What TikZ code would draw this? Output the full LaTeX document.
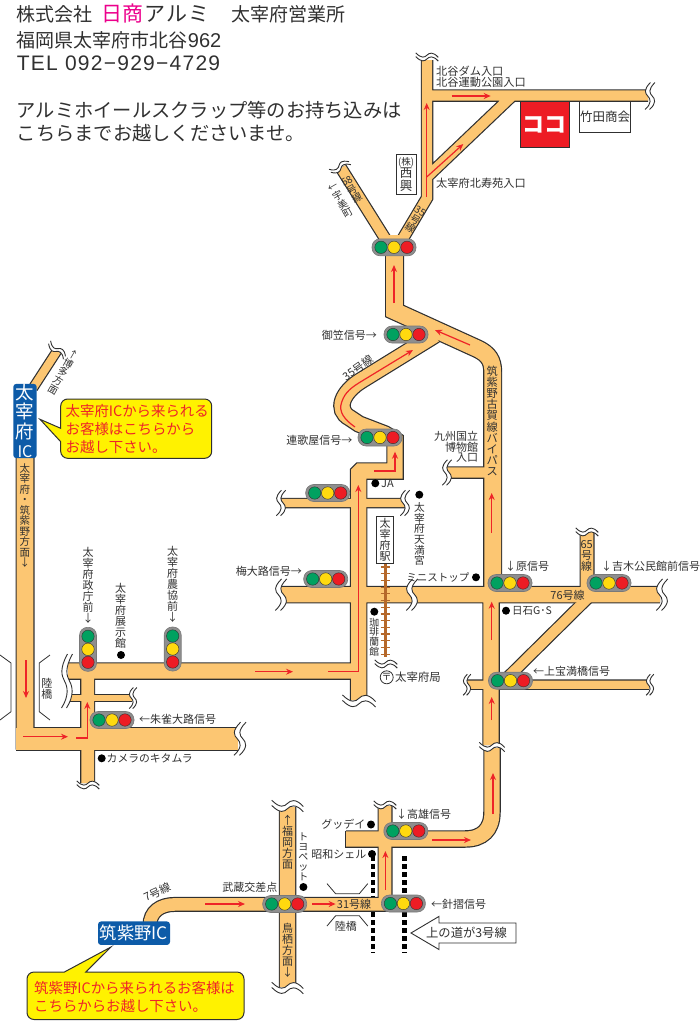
\documentclass[tikz,border=0pt]{standalone}
\usepackage{fontspec}
\setmainfont{Noto Sans CJK JP}
\newfontfamily\latinfont{Liberation Sans}
\newfontfamily\phonefont[LetterSpace=6]{Liberation Sans}
\usetikzlibrary{arrows.meta}
\lineskiplimit=-30pt
\definecolor{roadfill}{HTML}{FCC672}
\definecolor{inkgray}{HTML}{303030}
\definecolor{arrowred}{HTML}{EE2428}
\definecolor{signalgray}{HTML}{8E8E8E}
\definecolor{signalgreen}{HTML}{00A160}
\definecolor{signalyellow}{HTML}{FFD90F}
\definecolor{signalred}{HTML}{ED1C24}
\definecolor{icblue}{HTML}{0D5BA8}
\definecolor{noteyellow}{HTML}{FFF200}
\definecolor{pinkname}{HTML}{EC008C}
\definecolor{railbrown}{HTML}{B5682A}
\tikzset{
  fs/.style={font=\fontsize{#1}{#1}\selectfont},
  lbl/.style={inner sep=0pt,text=inkgray,fs=#1},
  lbl/.default=11,
  wlbl/.style={lbl=#1,anchor=west},
  wlbl/.default=11,
  elbl/.style={lbl=#1,anchor=east},
  elbl/.default=11,
  stack/.style={lbl=#1,align=center},
  stack/.default=11,
  blackdot/.style={circle,fill=black,inner sep=0pt,minimum size=8pt},
  roadedge/.style={draw=inkgray,line width=#1pt,line join=miter},
  roadinner/.style={draw=roadfill,line width=#1pt,line join=miter},
  redarrow/.style={draw=arrowred,line width=1.2pt,-{Stealth[length=7pt,width=6pt]}},
  namebox/.style={draw=inkgray,line width=1pt,fill=white,inner sep=0pt,text=inkgray},
  icbox/.style={fill=icblue,rounded corners=3pt,text=white,inner sep=0pt},
  callout/.style={draw=inkgray,line width=1pt,fill=noteyellow},
  notetext/.style={inner sep=0pt,text=arrowred,anchor=north west,align=left,font=\fontsize{14.4}{18}\selectfont},
  headline/.style={inner sep=0pt,text=inkgray,anchor=west,fs=#1},
  bridgeline/.style={draw=inkgray,line width=.8pt},
  wavemark/.pic={
    \path[fill=white] (.5,-15) .. controls (-7.5,-7) and (-5.5,-3) .. (-2.5,0) .. controls (.5,3) and (2.5,8) .. (-5.5,15)
      -- (-.5,15) .. controls (7.5,8) and (5.5,3) .. (2.5,0) .. controls (-.5,-3) and (-2.5,-7) .. (5.5,-15) -- cycle;
    \draw[inkgray,line width=.9pt] (.5,-15) .. controls (-7.5,-7) and (-5.5,-3) .. (-2.5,0) .. controls (.5,3) and (2.5,8) .. (-5.5,15);
    \draw[inkgray,line width=.9pt] (5.5,-15) .. controls (-2.5,-7) and (-.5,-3) .. (2.5,0) .. controls (5.5,3) and (7.5,8) .. (-.5,15);
  },
  trafficlight/.pic={
    \draw[signalgray!85!black,fill=signalgray,rounded corners=8pt,line width=.6pt] (-22,-8.5) rectangle (22,8.5);
    \draw[inkgray,fill=signalgreen,line width=.4pt] (-13,0) circle (6.2);
    \draw[inkgray,fill=signalyellow,line width=.4pt] (0,0) circle (6.2);
    \draw[inkgray,fill=signalred,line width=.4pt] (13,0) circle (6.2);
  }
}
% roads, grouped by width
\def\roadsXL{(15.7,738.7)--(238,738.7)}
\def\roadsL{(394.5,235)--(394.5,311)--(478,349) .. controls (488,354) and (492.7,360) .. (492.7,372)--(492.7,592) (25,457)--(25,749.5)}
\def\roadsM{(491,592)--(491,745) (492,748)--(492,812) .. controls (492,830) and (482,839) .. (465,839)--(346,839)
  (281,594.7)--(660,594.7) (68,671)--(358.7,671) (287.5,807)--(287.5,987)
  (435,335)--(362,380) .. controls (342,392) and (335,410) .. (350,418)--(359,424)--(385,434)--(395,440)--(395,471)
  [rounded corners=1.5pt] --(358.7,471) [sharp corners] --(358.7,700)}
\def\roadsS{(587,532)--(587,594) (150,925) .. controls (150,912) and (160,904.4) .. (175,904.4)--(395,904.4)
  (385,806)--(385,904) (87.7,671)--(87.7,783)}
\def\roadsN{(427,60)--(427,198)--(402,240) (427,95.5)--(648,95.5) (427,177)--(511,97) (388,243)--(341,168)
  (447,472.5)--(492,472.5) (590,596)--(505,680)}
\def\roadsT{(33,388)--(57,351) (281,503)--(405,503) (467,684.7)--(649,684.7)}
\def\roadsXS{(70,698)--(132,698)}
\begin{document}
\begin{tikzpicture}[x=1pt,y=-1pt]
\useasboundingbox (0,0) rectangle (700,1021);
% header text
\node[headline=19] (company) at (16.7,14) {株式会社};
\node[headline=21,text=pinkname] (nissho) at (101,14) {日商};
\node[headline=21] (arumi) at (144,14) {ア\hspace{1pt}ル\hspace{1pt}ミ};
\node[headline=19] (office) at (231.7,14) {太宰府営業所};
\node[headline=19] (address) at (16.7,40) {福岡県太宰府市北谷{\latinfont\fontsize{20}{20}\selectfont 962}};
\node[headline=21] (phone) at (16.7,63) {\phonefont TEL 092−929−4729};
\node[headline=19.25] (notea) at (16.7,110) {アルミホイールスクラップ等のお持ち込みは};
\node[headline=19.25] (noteb) at (16.7,133) {こちらまでお越しくださいませ。};
% dotted overhead road
\draw[line width=4.5pt,dash pattern=on 4.5pt off 3.5pt] (373,856)--(373,953);
\draw[line width=4.5pt,dash pattern=on 4.5pt off 3.5pt] (404.7,856)--(404.7,953);
% roads
\foreach \wd/\pth in {24/\roadsXL,19/\roadsL,17.5/\roadsM,15/\roadsS,12.5/\roadsN,10.5/\roadsT,8/\roadsXS}{
  \draw[roadedge=\wd] \pth;
}
\draw[inkgray,line width=1.2pt] (345.8,830.5)--(345.8,847.5);
\foreach \wd/\pth in {21.6/\roadsXL,16.6/\roadsL,15.1/\roadsM,12.6/\roadsS,10.1/\roadsN,8.1/\roadsT,5.6/\roadsXS}{
  \draw[roadinner=\wd] \pth;
}
% road breaks
\foreach \bx/\by/\brot/\bscale in {650/96/0/.9,427/57/90/.75,340/167/-58/.7,57/350/55/.7,281/503/0/.85,
  405/503/0/.85,281/594.7/0/1.05,412/594.7/0/1.05,447/472.5/0/.85,587/532/90/.75,662/594.7/0/1.05,
  467/684.7/0/.7,650/684.7/0/.7,492/747/90/.85,359/701/90/1.1,386/664/90/.75,133/698/0/.7,
  240/738.7/0/1.1,88/785/90/.75,287.5/806/90/1.05,287.5/988/90/1.05,385/805/90/.75}{
  \pic[rotate=\brot,scale=\bscale] at (\bx,\by) {wavemark};
}
\pic[yscale=1.8] at (67,681) {wavemark};
% railway
\draw[railbrown,line width=2.4pt] (385.3,563)--(385.3,657);
\foreach \ty in {567,573.7,...,655}{
  \draw[railbrown,line width=1.2pt] (380.5,\ty)--(390,\ty);
}
% traffic lights
\foreach \sx/\sy in {394/247.3,406/334.5,380/437.5,327.7/493,325.7/579,510/583,609/583,510.5/680.7,
  112/720,405.8/831,284.7/904,403.4/903.5}{
  \pic at (\sx,\sy) {trafficlight};
}
\foreach \sx/\sy in {88/649.3,172.7/649}{
  \pic[rotate=-90] at (\sx,\sy) {trafficlight};
}
% red arrows
\draw[redarrow] (26,660)--(26,698);
\draw[redarrow] (23,736.7)--(68,736.7);
\draw[redarrow] (76,738)--(87.3,738)--(87.3,702);
\draw[redarrow] (255,671.7)--(293,671.7);
\draw[redarrow] (328,671.7)--(358.3,671.7)--(358.3,485);
\draw[redarrow] (374,471)--(395,471)--(395,451.7);
\draw[redarrow] (355,427) .. controls (345,420) and (338,412) .. (341.7,402) .. controls (345,392) and (352,387) .. (362,381)--(413,350);
\draw[redarrow] (470,345)--(435,330);
\draw[redarrow] (394,303)--(394,265);
\draw[redarrow] (426.7,197)--(426.7,103);
\draw[redarrow] (426.7,177)--(463.3,144);
\draw[redarrow] (451.7,96)--(490.7,96);
\draw[redarrow] (491.7,532.7)--(491.7,493);
\draw[redarrow] (491.7,640)--(491.7,601.7);
\draw[redarrow] (491.7,720)--(491.7,697);
\draw[redarrow] (493,814)--(493,773);
\draw[redarrow] (432,840)--(471,840);
\draw[redarrow] (385.4,890)--(385.4,851);
\draw[redarrow] (205,904)--(245,904);
\draw[redarrow] (312,904)--(335.6,904);
% boxes
\node[fill=signalred,draw=inkgray,line width=1pt,minimum width=49pt,minimum height=46pt,inner sep=0pt,text=white,font=\fontsize{22}{22}\selectfont\bfseries] (koko) at (544.7,124.7) {ココ};
\node[namebox,minimum width=51.4pt,minimum height=31pt,fs=12.5] (takeda) at (605,117.2) {竹田商会};
\node[namebox,minimum width=20pt,minimum height=39.7pt,align=center,font=\fontsize{12.5}{12.5}\selectfont] (nishiko) at (406,174.2) {{\fontsize{9.5}{9.5}\selectfont(株)}\\西\\興};
\node[namebox,minimum width=16.6pt,minimum height=46.6pt,align=center,fs=11] (station) at (385,540) {太\\宰\\府\\駅};
\node[icbox,minimum width=23.4pt,minimum height=72pt,align=center,font=\fontsize{18.5}{19.5}\selectfont] (dazaifuic) at (25,421) {太\\宰\\府\\{\fontsize{16}{16}\selectfont IC}};
\node[icbox,minimum width=72pt,minimum height=23.5pt,fs=17.3] (chikushinoic) at (134,933.2) {筑紫野IC};
% callouts
\draw[callout] (120,399) [rounded corners=7pt] -- (211.7,399) -- (211.7,458.3) -- (60.7,458.3) [sharp corners] -- (60.7,441.7) -- (40,419.3) -- (60.7,428.3) [rounded corners=7pt] -- (60.7,399) -- cycle;
\node[notetext] (notedazaifu) at (65.5,404.5) {太宰府ICから来られる\\お客様はこちらから\\お越し下さい。};
\draw[callout] (150,972) [rounded corners=7pt] -- (244,972) -- (244,1019.5) -- (27,1019.5) -- (27,972) [sharp corners] -- (64.4,972) -- (111,947) -- (85.8,972) -- cycle;
\node[notetext] (notechikushino) at (34,981.5) {筑紫野ICから来られるお客様は\\こちらからお越し下さい。};
% overhead arrow
\draw[inkgray,line width=.9pt,fill=white] (411,933)--(439,916.4)--(439,923)--(516,923)--(516,943)--(439,943)--(439,949.5)--cycle;
\node[lbl=12.3] (upperroad) at (466.5,933) {上の道が3号線};
% bridges
\draw[bridgeline] (50,655)--(39.3,663)--(39.3,711.7)--(50,720);
\draw[bridgeline] (0,655)--(11,663)--(11,711.7)--(0,720);
\draw[bridgeline] (327,883.6)--(335.6,893.7)--(359.3,893.7)--(367.8,883.6);
\draw[bridgeline] (327,926)--(335.6,915.8)--(359.3,915.8)--(367.8,926);
\node[stack] (rikkyoa) at (47,689) {陸\\橋};
\node[lbl] (rikkyob) at (345.8,926) {陸橋};
% top area labels
\node[wlbl=11.2] (kitadani) at (436,71.7) {北谷ダム入口};
\node[wlbl=11.2] (undokoen) at (436,82.7) {北谷運動公園入口};
\node[wlbl=11.2] (jukoen) at (436,183.3) {太宰府北寿苑入口};
\node[stack=10,rotate=30] (route58) at (352,190) {58\\号\\線};
\node[stack=10,rotate=30] (umimachi) at (340.5,201) {←\\宇\\美\\町};
\node[stack=10,rotate=-30] (route35) at (415,220) {35\\号\\線};
% middle labels
\node[elbl] (mikasa) at (377,335) {御笠信号→};
\node[lbl,rotate=35] (route35b) at (358,368) {35号線};
\node[elbl] (rengaya) at (352.5,440) {連歌屋信号→};
\node[blackdot] (jadot) at (375.3,483.3) {};
\node[wlbl] (ja) at (381,483.3) {JA};
\node[blackdot] (tenmandot) at (419.3,494.7) {};
\node[stack=10.7] (tenmangu) at (419.5,534) {太\\宰\\府\\天\\満\\宮};
\node[blackdot] (ministopdot) at (476,577.3) {};
\node[elbl=10.5] (ministop) at (469.5,577.3) {ミニストップ};
\node[elbl] (hakubutsukan) at (478.3,436) {九州国立};
\node[elbl] (hakubutsukanb) at (478.3,447) {博物館};
\node[elbl] (hakubutsukanc) at (478.3,458) {入口};
\node[stack=11.2] (bypass) at (492.3,421) {筑\\紫\\野\\古\\賀\\線\\バ\\イ\\パ\\ス};
\node[wlbl] (hara) at (505,566.7) {↓原信号};
\node[stack] (route65) at (586.7,556) {65\\号\\線};
\node[wlbl] (yoshiki) at (601,566.7) {↓吉木公民館前信号};
\node[lbl] (route76) at (567.5,595) {76号線};
\node[blackdot] (nissekidot) at (506,610.7) {};
\node[wlbl=10.5] (nisseki) at (512,610.7) {日石G･S};
\node[wlbl] (kamihoman) at (533,671) {←上宝満橋信号};
\node[blackdot] (coffeedot) at (374.3,611.7) {};
\node[stack=9.8] (coffee) at (374.3,637) {珈\\琲\\蘭\\館};
\node[circle,draw=inkgray,line width=.8pt,minimum size=13pt,inner sep=0pt,text=inkgray,fs=10] (post) at (386.7,677.3) {〒};
\node[wlbl=11.4] (postoffice) at (395,677.3) {太宰府局};
\node[elbl] (umeoji) at (302,571) {梅大路信号→};
% left labels
\node[stack=10,rotate=-30] (hakata) at (63,372) {↑\\博\\多\\方\\面};
\node[stack=10.5] (direction) at (25,515.5) {太\\宰\\府\\・\\筑\\紫\\野\\方\\面\\↓};
\node[stack] (seicho) at (88,585) {太\\宰\\府\\政\\庁\\前\\↓};
\node[stack] (nokyo) at (172.7,584) {太\\宰\\府\\農\\協\\前\\↓};
\node[stack] (tenjikan) at (120.7,616) {太\\宰\\府\\展\\示\\館};
\node[blackdot] (tenjidot) at (121,655) {};
\node[wlbl] (suzaku) at (139,719) {←朱雀大路信号};
\node[blackdot] (kitamuradot) at (101.7,758.3) {};
\node[wlbl=10.8] (kitamura) at (106.5,758.3) {カメラのキタムラ};
% bottom labels
\node[lbl,rotate=25] (route7) at (157,892) {7号線};
\node[elbl] (musashi) at (277.5,887) {武蔵交差点};
\node[stack=10] (toyopet) at (303.4,857) {ト\\ヨ\\ペ\\ッ\\ト};
\node[blackdot] (toyopetdot) at (303.4,887) {};
\node[stack] (fukuoka) at (287.5,842) {↑\\福\\岡\\方\\面};
\node[stack] (tosu) at (287.5,950) {鳥\\栖\\方\\面\\↓};
\node[wlbl] (takao) at (396,814) {↓高雄信号};
\node[elbl] (gooday) at (365.5,824) {グッデイ};
\node[blackdot] (goodaydot) at (371,824.5) {};
\node[elbl] (showa) at (366.5,854) {昭和シェル};
\node[blackdot] (showadot) at (372,854) {};
\node[lbl] (route31) at (354,904.2) {31号線};
\node[wlbl] (harisuri) at (431,904) {←針摺信号};
\end{tikzpicture}
\end{document}
